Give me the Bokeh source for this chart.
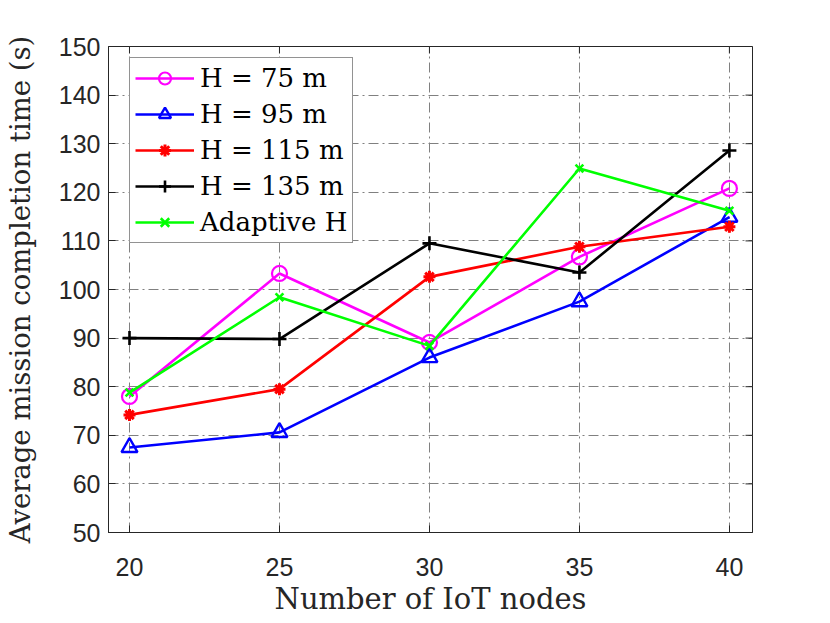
import math
from bokeh.plotting import figure
from bokeh.models import Range1d, FixedTicker, Legend, LegendItem
from bokeh.embed import file_html
from bokeh.resources import INLINE

nodes = [20, 25, 30, 35, 40]
h75 = [78.0, 103.3, 89.1, 106.7, 120.8]
h95 = [67.5, 70.6, 86.0, 97.5, 114.9]
h115 = [74.2, 79.5, 102.6, 108.8, 112.9]
h135 = [90.0, 89.8, 109.5, 103.5, 128.6]
adaptive = [78.8, 98.4, 88.4, 124.9, 116.2]

labels = ["H = 75 m", "H = 95 m", "H = 115 m", "H = 135 m", "Adaptive H"]
x_ticks = [20, 25, 30, 35, 40]
y_ticks = [50, 60, 70, 80, 90, 100, 110, 120, 130, 140, 150]

AX = "#262626"
SERIF = "DejaVu Serif"
SANS = "Liberation Sans"
X0, X1 = 19.3, 40.77
Y0, Y1 = 50, 150

p = figure(frame_width=644, frame_height=486, output_backend="svg", toolbar_location=None,
           x_range=Range1d(X0, X1), y_range=Range1d(Y0, Y1),
           min_border_left=108, min_border_right=70, min_border_top=46, min_border_bottom=60)
p.outline_line_color = AX
p.outline_line_width = 1
p.background_fill_color = "white"
p.border_fill_color = "white"

for ax in (p.xaxis[0], p.yaxis[0]):
    ax.axis_line_color = AX
    ax.major_tick_line_color = AX
    ax.major_tick_in = 7
    ax.major_tick_out = 0
    ax.minor_tick_line_color = None
    ax.major_label_text_font = SANS
    ax.major_label_text_font_size = "25px"
    ax.major_label_text_color = "#262626"
    ax.axis_label_text_font = SERIF
    ax.axis_label_text_font_style = "normal"
    ax.axis_label_text_color = "#262626"

p.xaxis.axis_label_text_font_size = "29px"
p.yaxis.axis_label_text_font_size = "27.5px"
p.xaxis.ticker = FixedTicker(ticks=x_ticks)
p.yaxis.ticker = FixedTicker(ticks=y_ticks)
p.xaxis.axis_label = "Number of IoT nodes"
p.yaxis.axis_label = "Average mission completion time (s)"
p.xaxis.major_label_standoff = 25
p.yaxis.major_label_standoff = 8
p.xaxis.axis_label_standoff = 3
p.yaxis.axis_label_standoff = 20

for g in (p.xgrid[0], p.ygrid[0]):
    g.grid_line_color = "#808080"
    g.grid_line_width = 1
    g.grid_line_dash = "10 4 2 4"
p.xgrid.ticker = FixedTicker(ticks=x_ticks)
p.ygrid.ticker = FixedTicker(ticks=y_ticks)

# tick marks on the top and right edges of the box (half of each dash is clipped by the frame)
p.scatter(x_ticks, [Y1] * len(x_ticks), marker="dash", angle=math.pi / 2, size=14,
          line_color=AX, line_width=1)
p.scatter([X1] * len(y_ticks), y_ticks, marker="dash", size=14, line_color=AX, line_width=1)

LW = 2.6
items = []
r1 = p.line(nodes, h75, line_color="#FF00FF", line_width=LW)
m1 = p.scatter(nodes, h75, marker="circle", size=15, fill_color=None, line_color="#FF00FF", line_width=2.2)
items.append(LegendItem(label=labels[0], renderers=[r1, m1]))
r2 = p.line(nodes, h95, line_color="#0000FF", line_width=LW)
m2 = p.scatter(nodes, h95, marker="triangle", size=16, fill_color=None, line_color="#0000FF", line_width=2.4)
items.append(LegendItem(label=labels[1], renderers=[r2, m2]))
r3 = p.line(nodes, h115, line_color="#FF0000", line_width=LW)
m3 = p.scatter(nodes, h115, marker="asterisk", size=12, line_color="#FF0000", line_width=3)
items.append(LegendItem(label=labels[2], renderers=[r3, m3]))
r4 = p.line(nodes, h135, line_color="#000000", line_width=LW)
m4 = p.scatter(nodes, h135, marker="cross", size=14, line_color="#000000", line_width=2.6)
items.append(LegendItem(label=labels[3], renderers=[r4, m4]))
r5 = p.line(nodes, adaptive, line_color="#00FF00", line_width=LW)
m5 = p.scatter(nodes, adaptive, marker="x", size=11, line_color="#00FF00", line_width=2.6)
items.append(LegendItem(label=labels[4], renderers=[r5, m5]))

leg = Legend(items=items, location=(21, 289))
leg.label_text_font = SERIF
leg.label_text_font_size = "26px"
leg.label_text_color = "#000000"
leg.glyph_width = 59
leg.glyph_height = 30
leg.label_height = 30
leg.spacing = 6
leg.padding = 5
leg.margin = 0
leg.label_standoff = 6
leg.border_line_color = AX
leg.border_line_width = 1
leg.background_fill_color = "white"
leg.background_fill_alpha = 1
p.add_layout(leg, "center")

open("out.html", "w").write(file_html(p, INLINE))
